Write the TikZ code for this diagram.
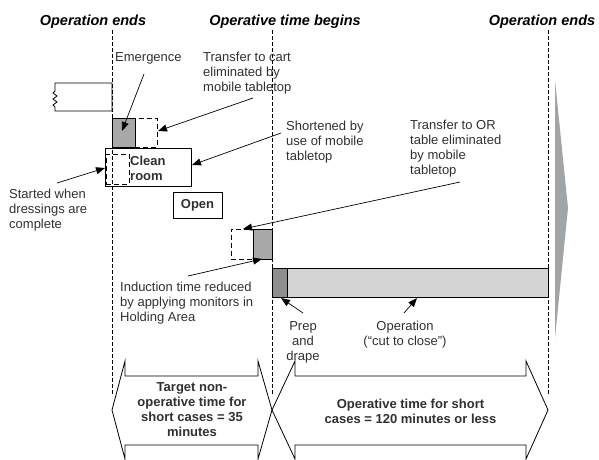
\documentclass[tikz,border=0pt]{standalone}
\usepackage{fontspec}
\setmainfont{Liberation Sans}
\usetikzlibrary{arrows.meta}
\definecolor{midgray}{HTML}{A8A8A8}
\definecolor{darkgray2}{HTML}{8E8E8E}
\definecolor{lightgray2}{HTML}{D4D4D4}
\definecolor{trigray}{HTML}{A2A5A8}
\definecolor{txtgray}{HTML}{303030}
\tikzset{
  lbl/.style={font=\fontsize{13}{15}\selectfont, text=txtgray, inner sep=0pt, align=left, anchor=north west},
  clbl/.style={font=\fontsize{13}{15}\selectfont, text=txtgray, inner sep=0pt, align=center, anchor=north},
  bigtxt/.style={font=\bfseries\fontsize{13}{15}\selectfont, text=txtgray, inner sep=0pt, align=center},
  ttl/.style={font=\bfseries\itshape\fontsize{14.5}{17}\selectfont, inner sep=0pt},
  solidbox/.style={draw, line width=0.8pt, rectangle, inner sep=0pt},
  dashbox/.style={draw, line width=0.8pt, rectangle, inner sep=0pt, dash pattern=on 5pt off 3pt},
  vdash/.style={line width=0.8pt, dash pattern=on 3.5pt off 2.5pt},
  arr/.style={-{Triangle[length=9pt,width=7pt]}, line width=0.7pt},
  bigarrow/.style={draw, line width=0.8pt, line join=miter},
}
\begin{document}
\begin{tikzpicture}[x=1pt,y=-1pt]
\useasboundingbox (0,0) rectangle (599,459);

% titles
\node[ttl] (t1) at (93,22) {Operation ends};
\node[ttl] (t2) at (285,22) {Operative time begins};
\node[ttl] (t3) at (542,22) {Operation ends};

% dashed vertical lines
\coordinate (d1t) at (112,30); \coordinate (d1b) at (112,395);
\coordinate (d2t) at (272,30); \coordinate (d2b) at (272,395);
\coordinate (d3t) at (548,30); \coordinate (d3b) at (548,395);
\draw[vdash] (d1t) -- (d1b);
\draw[vdash] (d2t) -- (d2b);
\draw[vdash] (d3t) -- (d3b);

% grey triangle
\fill[trigray] (555,80) -- (568,208) -- (555,338) -- cycle;

% previous operation stub
\draw[line width=0.8pt] (112,83) -- (55,83) -- (55,91) -- (53,93) -- (57,96) -- (53,99) -- (57,102) -- (53,105) -- (55,107) -- (55,111) -- (112,111) -- cycle;

% boxes
\node[solidbox, fill=midgray, minimum width=23pt, minimum height=29pt] (emg) at (123.5,132.5) {};
\node[dashbox, minimum width=22pt, minimum height=29pt] (emgd) at (146,132.5) {};
\node[solidbox, minimum width=86pt, minimum height=38pt] (clean) at (148,167) {};
\node[dashbox, minimum width=23pt, minimum height=30pt] (cleand) at (117.5,169) {};
\node[font=\bfseries\fontsize{13}{15}\selectfont, text=txtgray, inner sep=0pt, align=left, anchor=west] (cleantxt) at (130,168) {Clean\\room};
\node[solidbox, minimum width=49pt, minimum height=26pt, font=\bfseries\fontsize{13}{15}\selectfont, text=txtgray] (open) at (197.5,205.5) {Open};
\node[dashbox, minimum width=22pt, minimum height=30pt] (indd) at (242,244) {};
\node[solidbox, fill=midgray, minimum width=19pt, minimum height=30pt] (ind) at (262.5,244) {};
\node[solidbox, fill=lightgray2, minimum width=261pt, minimum height=29pt] (oper) at (417.5,282.5) {};
\node[solidbox, fill=darkgray2, minimum width=15pt, minimum height=29pt] (prep) at (279.5,282.5) {};

% labels
\node[lbl] (lemg) at (115,52) {Emergence};
\node[lbl] (lcart) at (203,52) {Transfer to cart\\eliminated by\\mobile tabletop};
\node[lbl] (lshort) at (286,121) {Shortened by\\use of mobile\\tabletop};
\node[lbl] (lor) at (410,120) {Transfer to OR\\table eliminated\\by mobile\\tabletop};
\node[lbl] (lstart) at (9,189) {Started when\\dressings are\\complete};
\node[lbl] (lind) at (120,282) {Induction time reduced\\by applying monitors in\\Holding Area};
\node[clbl] (lprep) at (303,321) {Prep\\and\\drape};
\node[clbl] (lop) at (405,321) {Operation\\(“cut to close”)};

% arrow end points
\coordinate (emgS) at (144,74);  \coordinate (emgE) at (122,131);
\coordinate (cartS) at (253,98); \coordinate (cartE) at (158,131);
\coordinate (shortS) at (281,133); \coordinate (shortE) at (192,165);
\coordinate (startS) at (57,183); \coordinate (startE) at (105,168);
\coordinate (orS) at (460,182); \coordinate (orE) at (243,229);
\coordinate (indS) at (188,276); \coordinate (indE) at (262,259);
\coordinate (prepS) at (303,313); \coordinate (prepE) at (281,298);
\coordinate (opS) at (404,313); \coordinate (opE) at (417,298);

\draw[arr] (emgS) -- (emgE);
\draw[arr] (cartS) -- (cartE);
\draw[arr] (shortS) -- (shortE);
\draw[arr] (startS) -- (startE);
\draw[arr] (orS) -- (orE);
\draw[arr] (indS) -- (indE);
\draw[arr] (prepS) -- (prepE);
\draw[arr] (opS) -- (opE);

% bottom double arrows
\draw[bigarrow] (112,410) -- (125,361) -- (125,376) -- (258,376) -- (258,361) -- (272,410) -- (258,459) -- (258,445) -- (125,445) -- (125,459) -- cycle;
\draw[bigarrow] (272,410) -- (295,361) -- (295,376) -- (526,376) -- (526,361) -- (548,410) -- (526,459) -- (526,445) -- (295,445) -- (295,459) -- cycle;
\node[bigtxt] (target) at (192,410) {Target non-\\operative time for\\short cases = 35\\minutes};
\node[bigtxt] (optime) at (410.5,411) {Operative time for short\\cases = 120 minutes or less};
\end{tikzpicture}
\end{document}
